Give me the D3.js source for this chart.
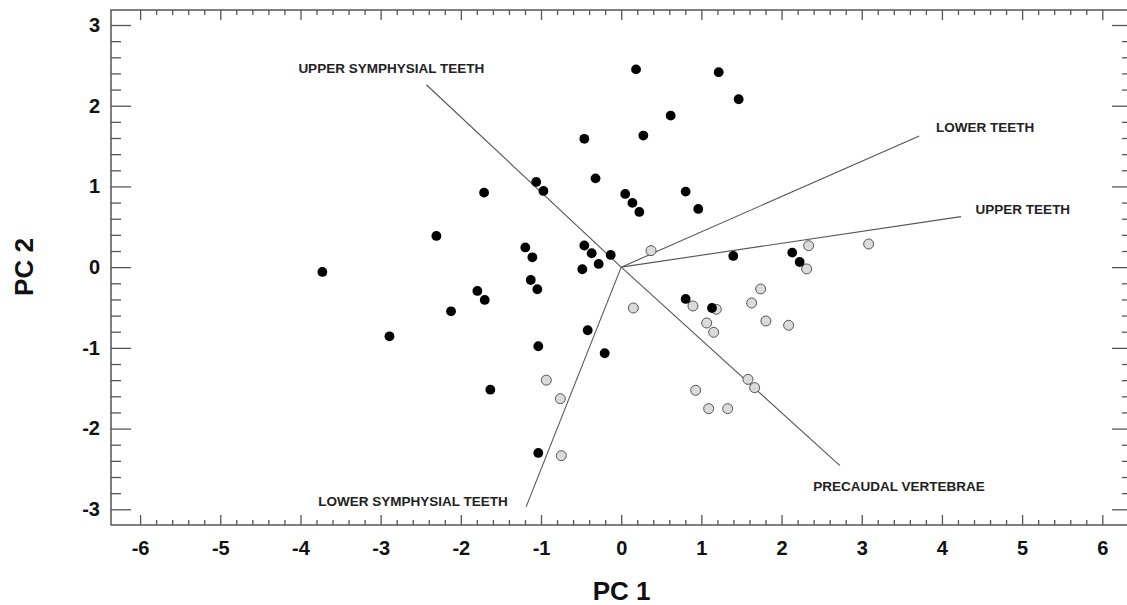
<!DOCTYPE html>
<html>
<head>
<meta charset="utf-8">
<script src="https://cdn.jsdelivr.net/npm/d3@7"></script>
<style>
  body { margin: 0; background: #fff; }
  svg { display: block; font-family: "Liberation Sans", Arial, sans-serif; font-weight: bold; }
  .tick text { font-size: 20px; font-weight: bold; fill: #111; }
  .tick line { stroke: #555; stroke-width: 1.3; }
</style>
</head>
<body>
<svg id="chart"></svg>
<script>
// group 1 (black dots)
const blackX = [0.185, 1.216, 1.465, 0.617, 0.276, -0.46, -0.32, -1.06, -0.97, -1.71,
  0.05, 0.804, 0.14, 0.961, 0.226, -2.305, -1.196, -1.108, -0.46, -0.368,
  -0.131, -0.281, -0.485, -3.727, -1.128, -1.046, -1.794, -1.702, -2.122, -2.89,
  -0.418, -1.034, -0.206, -1.632, -1.034, 1.398, 2.133, 2.226, 0.804, 1.132];
const blackY = [2.45, 2.415, 2.08, 1.877, 1.63, 1.59, 1.10, 1.056, 0.944, 0.923,
  0.907, 0.936, 0.796, 0.721, 0.684, 0.387, 0.244, 0.122, 0.268, 0.172,
  0.151, 0.04, -0.026, -0.059, -0.159, -0.274, -0.295, -0.406, -0.547, -0.857,
  -0.782, -0.98, -1.067, -1.518, -2.302, 0.139, 0.18, 0.064, -0.394, -0.506];

// group 2 (grey circles)
const greyX = [0.372, 2.338, 2.313, 3.086, 0.151, 0.895, 1.186, 1.739, 1.627, 1.066,
  1.153, 1.805, 2.088, 1.581, 1.664, 0.929, 1.091, 1.328, -0.934, -0.759, -0.747];
const greyY = [0.205, 0.266, -0.022, 0.287, -0.506, -0.481, -0.522, -0.27, -0.444, -0.692,
  -0.807, -0.667, -0.72, -1.39, -1.493, -1.526, -1.753, -1.753, -1.40, -1.63, -2.336];

// loading vectors
const loadingNames = ["UPPER SYMPHYSIAL TEETH", "LOWER TEETH", "UPPER TEETH",
  "PRECAUDAL VERTEBRAE", "LOWER SYMPHYSIAL TEETH"];
const loadingX = [-2.43, 3.717, 4.237, 2.728, -1.186];
const loadingY = [2.26, 1.626, 0.626, -2.46, -2.97];
const labelX = [-4.026, 3.925, 4.42, 2.395, -3.777];
const labelY = [2.403, 1.672, 0.656, -2.77, -2.959];

const xTicks = [-6, -5, -4, -3, -2, -1, 0, 1, 2, 3, 4, 5, 6];
const yTicks = [-3, -2, -1, 0, 1, 2, 3];

const width = 1127;
const height = 605;
const frame = { left: 111, right: 1132, top: 10, bottom: 525 };

const x = d3.scaleLinear().domain([-6, 6]).range([140.1, 1102.3]);
const y = d3.scaleLinear().domain([-3, 3]).range([509.3, 25]);

const minorX = d3.range(-30, 31).map((d) => d / 5).filter((d) => !Number.isInteger(d));
const minorY = d3.range(-15, 16).map((d) => d / 5).filter((d) => !Number.isInteger(d));

const fmt = (d) => (d < 0 ? "-" + Math.abs(d) : String(d));
const none = () => "";

const svg = d3.select("#chart").attr("width", width).attr("height", height);

// frame
svg.append("rect")
  .attr("x", frame.left).attr("y", frame.top)
  .attr("width", frame.right - frame.left).attr("height", frame.bottom - frame.top)
  .attr("fill", "none").attr("stroke", "#555").attr("stroke-width", 1.5);

const axis = (gen, tx, ty) => {
  const g = svg.append("g").attr("transform", `translate(${tx},${ty})`).call(gen);
  g.select(".domain").remove();
  return g;
};

// bottom
axis(d3.axisBottom(x).tickValues(xTicks).tickSize(-10).tickPadding(16).tickFormat(fmt), 0, frame.bottom);
axis(d3.axisBottom(x).tickValues(minorX).tickSize(-5).tickFormat(none), 0, frame.bottom);
// top
axis(d3.axisTop(x).tickValues(xTicks).tickSize(-10).tickFormat(none), 0, frame.top);
axis(d3.axisTop(x).tickValues(minorX).tickSize(-5).tickFormat(none), 0, frame.top);
// left
axis(d3.axisLeft(y).tickValues(yTicks).tickSize(-20).tickPadding(11).tickFormat(fmt), frame.left, 0);
axis(d3.axisLeft(y).tickValues(minorY).tickSize(-10).tickFormat(none), frame.left, 0);
// right
axis(d3.axisRight(y).tickValues(yTicks).tickSize(-20).tickFormat(none), frame.right, 0);
axis(d3.axisRight(y).tickValues(minorY).tickSize(-10).tickFormat(none), frame.right, 0);

// loading vectors
const vectors = d3.range(loadingNames.length);
svg.append("g")
  .selectAll("line")
  .data(vectors)
  .join("line")
  .attr("x1", x(0)).attr("y1", y(0))
  .attr("x2", (i) => x(loadingX[i]))
  .attr("y2", (i) => y(loadingY[i]))
  .attr("stroke", "#555")
  .attr("stroke-width", 1.1);

svg.append("g")
  .selectAll("text")
  .data(vectors)
  .join("text")
  .attr("x", (i) => x(labelX[i]))
  .attr("y", (i) => y(labelY[i]))
  .attr("font-size", "13.5px")
  .attr("fill", "#222")
  .text((i) => loadingNames[i]);

// points
svg.append("g")
  .selectAll("circle")
  .data(d3.range(greyX.length))
  .join("circle")
  .attr("cx", (i) => x(greyX[i]))
  .attr("cy", (i) => y(greyY[i]))
  .attr("r", 5)
  .attr("fill", "#dadada")
  .attr("stroke", "#555")
  .attr("stroke-width", 1);

svg.append("g")
  .selectAll("circle")
  .data(d3.range(blackX.length))
  .join("circle")
  .attr("cx", (i) => x(blackX[i]))
  .attr("cy", (i) => y(blackY[i]))
  .attr("r", 4.9)
  .attr("fill", "#000");

// axis titles
svg.append("text")
  .attr("x", 621.7).attr("y", 600)
  .attr("text-anchor", "middle")
  .attr("font-size", "26px")
  .attr("fill", "#111")
  .text("PC 1");

svg.append("text")
  .attr("transform", "translate(33,267) rotate(-90)")
  .attr("text-anchor", "middle")
  .attr("font-size", "26px")
  .attr("fill", "#111")
  .text("PC 2");
</script>
</body>
</html>
